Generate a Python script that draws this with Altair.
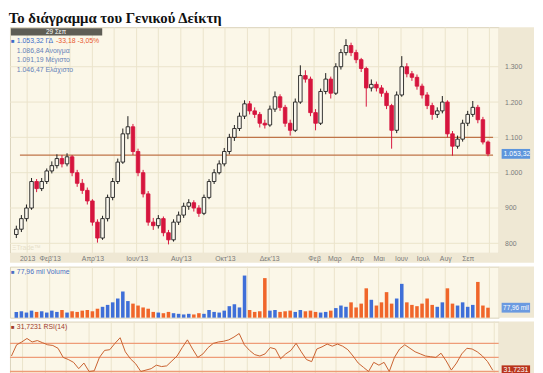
import json
import altair as alt
import pandas as pd

# ---------------- data ----------------
title_text = "Το διάγραμμα του Γενικού Δείκτη"
first_week = "2012-12-17"
first_open = 825

closes = [840, 870, 900, 975, 955, 975, 1005, 1020, 1040, 1025,
          1045, 1000, 970, 950, 920, 860, 815, 870, 930, 975,
          1030, 1110, 1130, 1060, 1000, 940, 860, 850, 870, 830,
          810, 860, 880, 905, 915, 900, 885, 930, 975, 1000,
          1025, 1060, 1100, 1125, 1160, 1195, 1175, 1165, 1140, 1135,
          1180, 1215, 1185, 1140, 1120, 1200, 1275, 1265, 1170, 1140,
          1230, 1265, 1225, 1300, 1340, 1360, 1340, 1320, 1295, 1240,
          1250, 1240, 1225, 1190, 1120, 1220, 1300, 1280, 1270, 1245,
          1220, 1190, 1165, 1175, 1200, 1110, 1075, 1095, 1140, 1165,
          1185, 1150, 1086.84, 1053.32]
highs = [850, 880, 910, 985, 982, 985, 1012, 1032, 1052, 1050,
         1055, 1050, 1008, 982, 958, 925, 868, 878, 938, 985,
         1040, 1125, 1160, 1138, 1068, 1008, 948, 872, 880, 876,
         838, 868, 890, 915, 925, 922, 908, 938, 982, 1010,
         1035, 1070, 1110, 1135, 1170, 1205, 1203, 1185, 1172, 1150,
         1190, 1230, 1222, 1192, 1150, 1210, 1304, 1290, 1272, 1180,
         1238, 1282, 1272, 1310, 1350, 1378, 1368, 1348, 1325, 1300,
         1264, 1258, 1248, 1232, 1195, 1230, 1330, 1310, 1288, 1278,
         1252, 1228, 1198, 1185, 1217, 1205, 1118, 1105, 1150, 1175,
         1203, 1192, 1158, 1091.19]
lows = [815, 832, 862, 895, 945, 948, 968, 998, 1012, 1015,
        1018, 990, 960, 940, 910, 850, 802, 810, 862, 922,
        968, 1025, 1095, 1050, 990, 930, 850, 838, 842, 820,
        797, 805, 852, 872, 895, 890, 875, 880, 925, 968,
        995, 1018, 1052, 1090, 1118, 1152, 1165, 1155, 1128, 1125,
        1130, 1172, 1175, 1130, 1105, 1115, 1195, 1255, 1160, 1120,
        1135, 1222, 1210, 1220, 1292, 1332, 1330, 1310, 1285, 1187,
        1230, 1230, 1215, 1180, 1068, 1112, 1215, 1270, 1260, 1235,
        1210, 1180, 1150, 1155, 1168, 1100, 1048, 1068, 1088, 1132,
        1158, 1140, 1080, 1046.47]
volumes = [45, 50, 40, 55, 45, 50, 40, 55, 45, 60,
           40, 50, 45, 55, 60, 50, 70, 85, 100, 120,
           150, 205, 130, 110, 95, 80, 70, 45, 40, 35,
           45, 35, 30, 25, 30, 25, 35, 30, 60, 45,
           40, 55, 90, 105, 80, 330, 60, 45, 50, 310,
           55, 60, 45, 50, 55, 45, 60, 50, 55, 45,
           40, 45, 55, 75, 95, 85, 120, 80, 110, 230,
           140, 95, 120, 200, 110, 150, 265, 120, 100, 90,
           110, 150, 100, 85, 120, 230, 110, 95, 120, 85,
           100, 280, 95, 77.96]
rsi = [52, 68, 72, 77, 72, 74, 71, 68, 67, 63,
       50, 47, 43, 34, 42, 30, 31, 50, 60, 61,
       70, 78, 58, 48, 41, 30, 32, 34, 39, 37,
       38, 45, 52, 64, 75, 62, 50, 55, 64, 70,
       72, 73, 75, 79, 84, 68, 60, 54, 52, 55,
       64, 62, 48, 55, 60, 70, 58, 47, 44, 62,
       65, 69, 66, 69, 66, 61, 52, 42, 36, 30,
       43, 39, 43, 30, 50, 62, 68, 63, 58, 55,
       52, 51, 50, 56, 45, 32, 42, 55, 63, 62,
       58, 52, 44, 31.7231]

support_levels = [1100, 1050]
support_from = ["2013-10-07", "2012-12-22"]
support_to = ["2014-10-06", "2014-10-06"]

y_ticks = [800, 900, 1000, 1100, 1200, 1300]
tick_months = [0, 1, 3, 5, 7, 9, 11, 13, 14, 15, 16, 17, 18, 19, 20]
tick_labels = ["2013", "Φεβ'13", "Απρ'13", "Ιουν'13", "Αυγ'13", "Οκτ'13", "Δεκ'13",
               "Φεβ", "Μαρ", "Απρ", "Μαι", "Ιουν", "Ιουλ", "Αυγ", "Σεπ"]
rsi_levels = [70, 50, 30]

header_date = "29 Σεπ"
legend_main = ["1.053,32 ΓΔ", "-33,18 -3,05%"]
legend_ohl = ["1.086,84 Ανοιγμα", "1.091,19 Μέγιστο", "1.046,47 Ελάχιστο"]
last_tag = "1.053,32"
vol_legend = "77,96 mil Volume"
vol_tag = "77,96 mil"
rsi_legend = "31,7231 RSI(14)"
rsi_tag = "31,7231"
watermark = "ΞTrade™"

# ---------------- styling ----------------
W = 498
H_MAIN = 230
H_VOL = 52
H_RSI = 53
SANS = "Liberation Sans"
BEIGE = "#efe8d4"
GRID = "#ebe3cb"
UP_LINE = "#1c1c1c"
UP_FILL = "#fbf8ee"
DOWN = "#d6153e"
VOL_UP = "#3f6fd8"
VOL_DOWN = "#f0662a"
SUPPORT = "#bf7448"

dates = pd.date_range(first_week, periods=len(closes), freq="7D")
opens = [first_open] + closes[:-1]
df = pd.DataFrame({"date": dates, "open": opens, "high": highs, "low": lows,
                   "close": closes, "volume": volumes, "rsi": rsi})
months_df = pd.DataFrame({"date": pd.date_range("2013-01-01", "2014-10-01", freq="MS")})
support_df = pd.DataFrame({"level": support_levels, "start": pd.to_datetime(support_from),
                           "end": pd.to_datetime(support_to)})
ygrid_df = pd.DataFrame({"level": y_ticks})
last_df = pd.DataFrame({"close": [closes[-1]], "volume": [volumes[-1]], "rsi": [rsi[-1]],
                        "ctag": [last_tag], "vtag": [vol_tag], "rtag": [rsi_tag]})
rsi_lv_df = pd.DataFrame({"level": rsi_levels})

x_scale = alt.Scale(domain=[alt.DateTime(year=2012, month=12, date=15),
                            alt.DateTime(year=2014, month=10, date=7)])
y_scale = alt.Scale(domain=[773, 1412], zero=False, nice=False)

label_arr = [""] * 21
for m, lab in zip(tick_months, tick_labels):
    label_arr[m] = lab
label_expr = json.dumps(label_arr, ensure_ascii=False) + "[(year(datum.value)-2013)*12+month(datum.value)]"
tick_values = [alt.DateTime(year=2013 + m // 12, month=m % 12 + 1, date=1) for m in tick_months]

x_axis = alt.Axis(values=tick_values, labelExpr=label_expr, grid=False, domain=False, ticks=False,
                  labelFontSize=7, labelFont=SANS, labelColor="#7a7a7a", labelPadding=2,
                  labelOverlap=False, labelFlush=False, title=None, zindex=1)
y_axis = alt.Axis(orient="right", values=y_ticks,
                  labelExpr="replace(format(datum.value, ','), ',', '.')",
                  grid=False, domain=False, ticks=False, labelFontSize=7, labelFont=SANS,
                  labelColor="#7a7a7a", labelPadding=6, title=None, zindex=1)

up_test = "datum.close >= datum.open"


def txt(text, x, y, color, size=7, align="left", font=SANS, weight="normal"):
    return (alt.Chart(pd.DataFrame({"t": [text]}))
            .mark_text(align=align, baseline="middle", fontSize=size, font=font,
                       color=color, fontWeight=weight)
            .encode(x=alt.value(x), y=alt.value(y), text="t:N"))


def box(x1, x2, y1, y2, color):
    return (alt.Chart(pd.DataFrame({"k": [0]}))
            .mark_rect(color=color)
            .encode(x=alt.value(x1), x2=alt.value(x2), y=alt.value(y1), y2=alt.value(y2)))


TAG_SHAPE = "M0,-1L5.8,-1L5.8,1L0,1Z"

# ---------------- main price panel ----------------
Xm = alt.X("date:T", scale=x_scale, axis=x_axis)
strip_main = box(W, W + 36, 0, H_MAIN, BEIGE)
band_main = box(0, W + 36, H_MAIN, H_MAIN + 10, BEIGE)
vgrid = alt.Chart(months_df).mark_rule(color=GRID, strokeWidth=1).encode(x=Xm)
hgrid = alt.Chart(ygrid_df).mark_rule(color=GRID, strokeWidth=1).encode(
    y=alt.Y("level:Q", scale=y_scale, axis=y_axis))
support = alt.Chart(support_df).mark_rule(color=SUPPORT, strokeWidth=1.3).encode(
    x=alt.X("start:T", scale=x_scale, axis=x_axis), x2="end:T",
    y=alt.Y("level:Q", scale=y_scale, axis=y_axis))
wicks = alt.Chart(df).mark_rule(strokeWidth=1).encode(
    x=Xm, y=alt.Y("low:Q", scale=y_scale, axis=y_axis), y2="high:Q",
    color=alt.condition(up_test, alt.value(UP_LINE), alt.value(DOWN)))
bodies = alt.Chart(df).mark_bar(size=3.6, strokeWidth=0.9).encode(
    x=Xm, y=alt.Y("open:Q", scale=y_scale, axis=y_axis), y2="close:Q",
    fill=alt.condition(up_test, alt.value(UP_FILL), alt.value(DOWN)),
    stroke=alt.condition(up_test, alt.value(UP_LINE), alt.value(DOWN)))
price_tag = alt.Chart(last_df).mark_point(shape=TAG_SHAPE, size=100, filled=True,
                                          opacity=1, color="#5d95dc").encode(
    x=alt.value(W + 3), y=alt.Y("close:Q", scale=y_scale, axis=y_axis))
price_txt = alt.Chart(last_df).mark_text(align="left", baseline="middle", fontSize=7,
                                         font=SANS, color="white").encode(
    x=alt.value(W + 5), y=alt.Y("close:Q", scale=y_scale, axis=y_axis), text="ctag:N")

header = box(1, 94, 1, 8.5, "#5e5d55")
header_txt = txt(header_date, 47, 5, "white", size=6.5, align="center")
leg_sq = txt("■", 1, 14, "#3a6cc8", size=6)
leg_a = txt(legend_main[0], 7, 14, "#3a6cc8")
leg_b = txt(legend_main[1], 47, 14, "#e8582f")
leg_rest = [txt(s, 7, 24 + 9.6 * i, "#6683b8") for i, s in enumerate(legend_ohl)]
wm = txt(watermark, 2, H_MAIN - 5, "#e6dfc9", size=7)

main = alt.layer(strip_main, band_main, vgrid, hgrid, support, wicks, bodies,
                 price_tag, price_txt, header, header_txt, leg_sq, leg_a, leg_b,
                 *leg_rest, wm).properties(width=W, height=H_MAIN)

# ---------------- volume panel ----------------
Xn = alt.X("date:T", scale=x_scale, axis=None)
vol_scale = alt.Scale(domain=[0, 400])
strip_vol = box(W, W + 36, 0, H_VOL, BEIGE)
vgrid_v = alt.Chart(months_df).mark_rule(color=GRID, strokeWidth=1).encode(x=Xn)
vol_bars = alt.Chart(df).mark_bar(size=3.6).encode(
    x=Xn, y=alt.Y("volume:Q", scale=vol_scale, axis=None),
    color=alt.condition(up_test, alt.value(VOL_UP), alt.value(VOL_DOWN)))
vol_tag_pt = alt.Chart(last_df).mark_point(shape=TAG_SHAPE, size=100, filled=True,
                                           opacity=1, color="#6b9ae0").encode(
    x=alt.value(W + 3), y=alt.Y("volume:Q", scale=vol_scale, axis=None))
vol_tag_txt = alt.Chart(last_df).mark_text(align="left", baseline="middle", fontSize=6.5,
                                           font=SANS, color="white").encode(
    x=alt.value(W + 4.5), y=alt.Y("volume:Q", scale=vol_scale, axis=None), text="vtag:N")
vol_sq = txt("■", 1, 5.5, "#4a6fc4", size=6)
vol_lab = txt(vol_legend, 7, 5.5, "#4a6fc4")
volume = alt.layer(strip_vol, vgrid_v, vol_bars, vol_tag_pt, vol_tag_txt, vol_sq,
                   vol_lab).properties(width=W, height=H_VOL)

# ---------------- RSI panel ----------------
rsi_scale = alt.Scale(domain=[27, 101], zero=False, nice=False)
strip_rsi = box(W, W + 36, 0, H_RSI, BEIGE)
vgrid_r = alt.Chart(months_df).mark_rule(color=GRID, strokeWidth=1).encode(x=Xn)
rsi_lv = alt.Chart(rsi_lv_df).mark_rule(color="#ee9c78", strokeWidth=1.4).encode(
    y=alt.Y("level:Q", scale=rsi_scale, axis=None))
rsi_line = alt.Chart(df).mark_line(color="#c8602e", strokeWidth=1, clip=True).encode(
    x=Xn, y=alt.Y("rsi:Q", scale=rsi_scale, axis=None))
rsi_tag_pt = alt.Chart(last_df).mark_point(shape=TAG_SHAPE, size=100, filled=True,
                                           opacity=1, color="#b9331b").encode(
    x=alt.value(W + 3), y=alt.Y("rsi:Q", scale=rsi_scale, axis=None))
rsi_tag_txt = alt.Chart(last_df).mark_text(align="left", baseline="middle", fontSize=7,
                                           font=SANS, color="white").encode(
    x=alt.value(W + 5), y=alt.Y("rsi:Q", scale=rsi_scale, axis=None), text="rtag:N")
rsi_sq = txt("■", 1, 6, "#a13b2b", size=6)
rsi_lab = txt(rsi_legend, 7, 6, "#a13b2b")
rsi_panel = alt.layer(strip_rsi, vgrid_r, rsi_lv, rsi_line, rsi_tag_pt, rsi_tag_txt,
                      rsi_sq, rsi_lab).properties(width=W, height=H_RSI)

chart = alt.vconcat(main, volume, rsi_panel, spacing=2).properties(
    title=alt.TitleParams(title_text, anchor="start", font="Liberation Serif", fontSize=15,
                          fontWeight="bold", color="#111111", offset=0),
    padding=0,
).configure(background="white").configure_view(fill="#fbf7e8", stroke="#dad2ba", strokeWidth=1)

chart.save("out.html", embed_options={"renderer": "svg", "actions": False})
